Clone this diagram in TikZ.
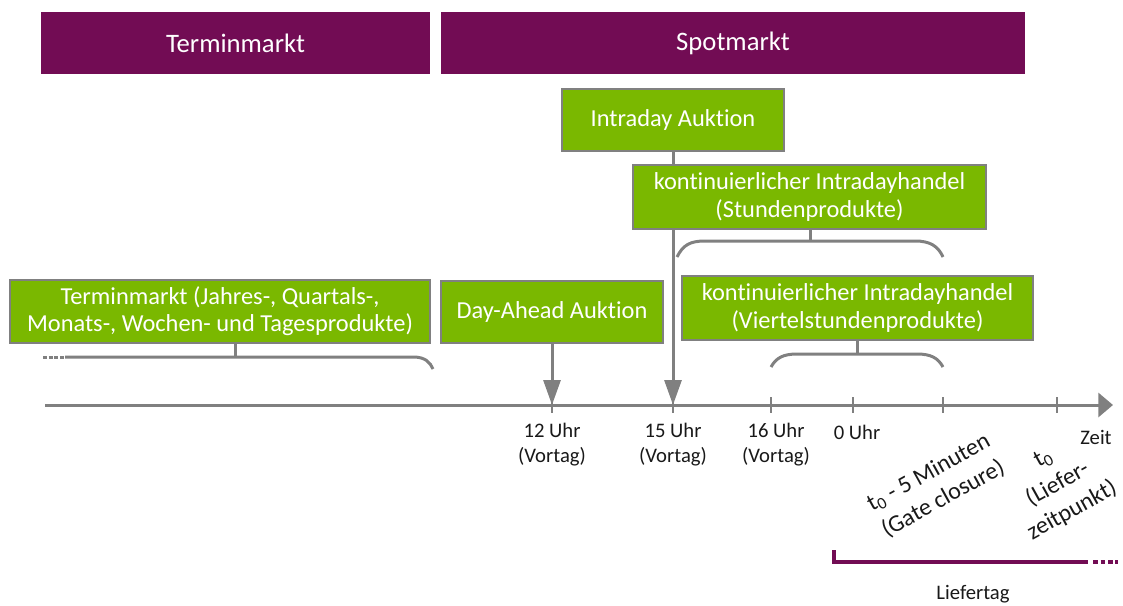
\documentclass[tikz,border=0pt]{standalone}
\usepackage{fontspec}
\setmainfont{Carlito}[Ligatures={NoCommon,NoRequired,NoContextual}]
\usetikzlibrary{arrows.meta}
\definecolor{mktpurple}{RGB}{114,12,84}
\definecolor{mktgreen}{RGB}{122,184,0}
\definecolor{linegray}{RGB}{128,128,128}
\definecolor{txt}{RGB}{25,25,25}
\begin{document}
\begin{tikzpicture}[x=0.75pt,y=-0.75pt,
  sz/.style 2 args={minimum width=#1*0.75pt, minimum height=#2*0.75pt},
  header/.style={fill=mktpurple, text=white, inner sep=0pt,
    font=\fontsize{20}{24}\selectfont},
  greenbox/.style={fill=mktgreen, draw=linegray, line width=1.5pt, text=white,
    align=center, inner sep=0pt, font=\fontsize{18.3}{20.5}\selectfont},
  conn/.style={draw=linegray, line width=2.25pt},
  pointer/.style={conn, -{Triangle[length=18.75pt,width=12.75pt]}},
  tickmark/.style={draw=linegray, line width=1.5pt},
  tlabel/.style={align=center, text=txt, font=\fontsize{15.5}{19}\selectfont},
  rlabel/.style={align=center, text=txt, rotate=29, font=\fontsize{18}{22.5}\selectfont},
  dayline/.style={draw=mktpurple, line width=3pt}
]
\useasboundingbox (0,0) rectangle (1123,606);

% time axis positions
\coordinate (axstart) at (45,405);
\coordinate (axend)   at (1113,405);
\coordinate (t12) at (552,405);
\coordinate (t15) at (673,405);
\coordinate (t16) at (771,405);
\coordinate (t0h) at (853,405);
\coordinate (tgc) at (943,405);
\coordinate (tdl) at (1057,405);

% market headers
\node[header, sz={389}{62}] (hterm) at (235.5,43) {Terminmarkt};
\node[header, sz={584}{62}] (hspot) at (733,43) {Spotmarkt};

% axis and ticks
\draw[conn, -{Triangle[length=11pt,width=18pt]}] (axstart) -- (axend);
\foreach \t in {t12,t15,t16,t0h,tgc,tdl}
  \draw[tickmark] ([yshift=6pt]\t) -- ([yshift=-6pt]\t);

% intraday auction, pointing to 15 Uhr behind the hourly box
\node[greenbox, sz={222}{62}] (intra) at (673,120) {Intraday Auktion};
\draw[pointer] (intra.south) -- (t15);

\node[greenbox, sz={353}{64}] (stunden) at (809.5,197)
  {kontinuierlicher Intradayhandel\\(Stundenprodukte)};
\node[greenbox, sz={420}{63}] (termin) at (220,311.5)
  {Terminmarkt (Jahres-, Quartals-,\\Monats-, Wochen- und Tagesprodukte)};
\node[greenbox, sz={222}{62}] (dayahead) at (552,312) {Day-Ahead Auktion};
\node[greenbox, sz={351}{64}] (viertel) at (857.5,308)
  {kontinuierlicher Intradayhandel\\(Viertelstundenprodukte)};

\draw[pointer] (dayahead.south -| t12) -- (t12);

% braces
\coordinate (bterm) at (235,357);
\draw[conn] (termin.south -| bterm) -- (bterm);
\draw[conn] (65,357) -- (413,357) .. controls (425,357) and (430,362) .. (433,369);
\draw[conn, dash pattern=on 3pt off 1.2pt] (43,357) -- (65,357);

\coordinate (bstd) at (810,241);
\draw[conn] (stunden.south -| bstd) -- (bstd);
\draw[conn] (677,257) .. controls (683,245) and (690,241) .. (705,241)
  -- (915,241) .. controls (930,241) and (938,246) .. (943,257);

\coordinate (bvrt) at (857,354);
\draw[conn] (viertel.south -| bvrt) -- (bvrt);
\draw[conn] (771,367) .. controls (776,358) and (783,354) .. (797,354)
  -- (917,354) .. controls (931,354) and (938,358) .. (943,367);

% axis labels
\node[tlabel] (l12) at (552,444.5) {12 Uhr\\(Vortag)};
\node[tlabel] (l15) at (673,444.5) {15 Uhr\\(Vortag)};
\node[tlabel] (l16) at (776,444.5) {16 Uhr\\(Vortag)};
\node[tlabel] (l0)  at (857,432) {0 Uhr};
\node[tlabel] (lz)  at (1096,437) {Zeit};
\node[rlabel] (lgc) at (936,486) {t\textsubscript{0} - 5 Minuten\\(Gate closure)};
\node[rlabel] (ldl) at (1058,485) {t\textsubscript{0}\\(Liefer-\\zeitpunkt)};

% delivery day
\coordinate (ds) at (834,550);
\coordinate (dc) at (834,562);
\coordinate (de) at (1088,562);
\coordinate (dx) at (1118,562);
\draw[dayline] (ds) -- (dc) -- (de);
\draw[dayline, dash pattern=on 3.5pt off 2pt] ([xshift=4pt]de) -- (dx);
\node[tlabel] (ltag) at (973,594) {Liefertag};
\end{tikzpicture}
\end{document}
